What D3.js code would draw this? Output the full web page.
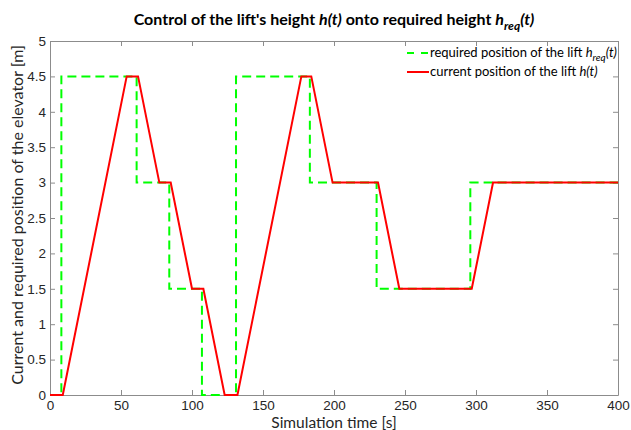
<!DOCTYPE html>
<html>
<head>
<meta charset="utf-8">
<script src="https://cdn.jsdelivr.net/npm/d3@7"></script>
<style>
  body { margin: 0; background: #fff; }
  svg { font-family: Lato, "Open Sans", sans-serif; }
  .axis text { fill: #262626; font-size: 13.5px; }
  .axis path, .axis line { stroke: #8c8c8c; }
</style>
</head>
<body>
<svg width="631" height="430"></svg>
<script>
// required lift height (step signal)
const reqTime   = [0, 8, 8, 61, 61, 84, 84, 107, 107, 131, 131, 183, 183, 230, 230, 296, 296, 400];
const reqHeight = [0, 0, 4.5, 4.5, 3, 3, 1.5, 1.5, 0, 0, 4.5, 4.5, 3, 3, 1.5, 1.5, 3, 3];

// current lift height
const curTime   = [0, 9, 54, 62, 77, 85, 100, 108, 123, 132, 177, 184, 199, 231, 246, 297, 312, 400];
const curHeight = [0, 0, 4.5, 4.5, 3, 3, 1.5, 1.5, 0, 0, 4.5, 4.5, 3, 3, 1.5, 1.5, 3, 3];

const xTicks = [0, 50, 100, 150, 200, 250, 300, 350, 400];
const yTicks = [0, 0.5, 1, 1.5, 2, 2.5, 3, 3.5, 4, 4.5, 5];

const svg = d3.select('svg');
const mLeft = 50, mRight = 618, mTop = 41, mBottom = 395;

const x = d3.scaleLinear().domain([0, 400]).range([mLeft, mRight]);
const y = d3.scaleLinear().domain([0, 5]).range([mBottom, mTop]);

// axes, ticks pointing inward on all four sides
svg.append('g').attr('class', 'axis')
    .attr('transform', `translate(0,${mBottom})`)
    .call(d3.axisBottom(x).tickValues(xTicks).tickSizeInner(-5).tickSizeOuter(0).tickPadding(5))
svg.append('g').attr('class', 'axis')
    .attr('transform', `translate(0,${mTop})`)
    .call(d3.axisTop(x).tickValues(xTicks).tickSizeInner(-5).tickSizeOuter(0).tickFormat(''))
svg.append('g').attr('class', 'axis')
    .attr('transform', `translate(${mLeft},0)`)
    .call(d3.axisLeft(y).tickValues(yTicks).tickSizeInner(-5).tickSizeOuter(0).tickPadding(4).tickFormat(d3.format('')))
svg.append('g').attr('class', 'axis')
    .attr('transform', `translate(${mRight},0)`)
    .call(d3.axisRight(y).tickValues(yTicks).tickSizeInner(-5).tickSizeOuter(0).tickFormat(''))
svg.selectAll('.axis .domain').attr('stroke', '#8c8c8c');

const line = d3.line().x(d => x(d[0])).y(d => y(d[1]));

svg.append('path')
    .datum(reqTime.map((t, i) => [t, reqHeight[i]]))
    .attr('d', line)
    .attr('fill', 'none')
    .attr('stroke', '#00ff00')
    .attr('stroke-width', 2)
    .attr('stroke-dasharray', '9,5')

svg.append('path')
    .datum(curTime.map((t, i) => [t, curHeight[i]]))
    .attr('d', line)
    .attr('fill', 'none')
    .attr('stroke', '#ff0000')
    .attr('stroke-width', 2)

// title
const title = svg.append('text')
    .attr('x', (mLeft + mRight) / 2).attr('y', 25)
    .attr('text-anchor', 'middle')
    .attr('font-size', 16).attr('font-weight', 'bold').attr('fill', '#000')
title.append('tspan').text("Control of the lift's height ")
title.append('tspan').attr('font-style', 'italic').text('h(t)')
title.append('tspan').text(' onto required height ')
title.append('tspan').attr('font-style', 'italic').text('h')
title.append('tspan').attr('font-style', 'italic').attr('font-size', 12).attr('dy', 5).text('req')
title.append('tspan').attr('font-style', 'italic').attr('dy', -5).text('(t)')

// axis labels
svg.append('text')
    .attr('x', (mLeft + mRight) / 2).attr('y', 428)
    .attr('text-anchor', 'middle').attr('font-size', 15.5).attr('fill', '#262626')
    .text('Simulation time [s]')
svg.append('text')
    .attr('transform', `translate(23,${(mTop + mBottom) / 2 - 3}) rotate(-90)`)
    .attr('text-anchor', 'middle').attr('font-size', 16).attr('fill', '#262626')
    .text('Current and required position of the elevator [m]')

// legend
const lg = svg.append('g')
lg.append('line').attr('x1', 407).attr('x2', 429).attr('y1', 53).attr('y2', 53)
    .attr('stroke', '#00ff00').attr('stroke-width', 2).attr('stroke-dasharray', '7,7')
lg.append('line').attr('x1', 407).attr('x2', 429).attr('y1', 72).attr('y2', 72)
    .attr('stroke', '#ff0000').attr('stroke-width', 2)
const l1 = lg.append('text').attr('x', 430).attr('y', 57).attr('font-size', 13).attr('fill', '#000')
l1.append('tspan').text('required position of the lift ')
l1.append('tspan').attr('font-style', 'italic').text('h')
l1.append('tspan').attr('font-style', 'italic').attr('font-size', 10).attr('dy', 4).text('req')
l1.append('tspan').attr('font-style', 'italic').attr('dy', -4).text('(t)')
const l2 = lg.append('text').attr('x', 430).attr('y', 76).attr('font-size', 13).attr('fill', '#000')
l2.append('tspan').text('current position of the lift ')
l2.append('tspan').attr('font-style', 'italic').text('h(t)')
</script>
</body>
</html>
